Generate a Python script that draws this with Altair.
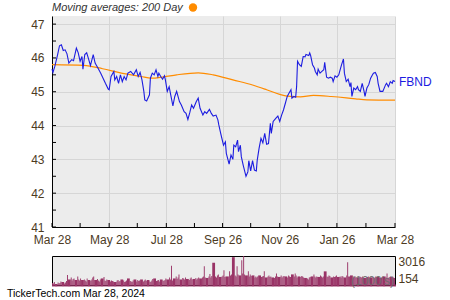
import altair as alt
import pandas as pd

# ---------------- data ----------------
ticker = "FBND"
title_text = "Moving averages: 200 Day"
footer_text = "TickerTech.com  Mar 28, 2024"
volume_unit = "(1000's)"

price_dates = [
    "2023-03-28", "2023-03-29", "2023-03-31", "2023-04-03", "2023-04-05", "2023-04-07", "2023-04-09",
    "2023-04-11", "2023-04-13", "2023-04-15", "2023-04-18", "2023-04-20", "2023-04-23", "2023-04-25",
    "2023-04-27", "2023-04-29", "2023-04-30", "2023-05-02", "2023-05-04", "2023-05-06", "2023-05-08",
    "2023-05-11", "2023-05-13", "2023-05-16", "2023-05-19", "2023-05-22", "2023-05-24", "2023-05-27",
    "2023-05-28", "2023-05-30", "2023-06-02", "2023-06-03", "2023-06-05", "2023-06-07", "2023-06-09",
    "2023-06-11", "2023-06-13", "2023-06-15", "2023-06-17", "2023-06-20", "2023-06-23", "2023-06-26",
    "2023-06-28", "2023-06-30", "2023-07-02", "2023-07-04", "2023-07-05", "2023-07-07", "2023-07-10",
    "2023-07-11", "2023-07-13", "2023-07-15", "2023-07-17", "2023-07-19", "2023-07-20", "2023-07-22",
    "2023-07-24", "2023-07-26", "2023-07-27", "2023-07-29", "2023-07-31", "2023-08-02", "2023-08-04",
    "2023-08-06", "2023-08-08", "2023-08-11", "2023-08-13", "2023-08-16", "2023-08-18", "2023-08-20",
    "2023-08-22", "2023-08-24", "2023-08-26", "2023-08-29", "2023-08-31", "2023-09-02", "2023-09-05",
    "2023-09-07", "2023-09-09", "2023-09-12", "2023-09-14", "2023-09-16", "2023-09-19", "2023-09-21",
    "2023-09-22", "2023-09-24", "2023-09-27", "2023-09-29", "2023-09-30", "2023-10-03", "2023-10-05",
    "2023-10-07", "2023-10-08", "2023-10-10", "2023-10-12", "2023-10-13", "2023-10-15", "2023-10-16",
    "2023-10-18", "2023-10-21", "2023-10-23", "2023-10-24", "2023-10-26", "2023-10-28", "2023-10-30",
    "2023-11-01", "2023-11-02", "2023-11-04", "2023-11-06", "2023-11-08", "2023-11-10", "2023-11-12",
    "2023-11-14", "2023-11-16", "2023-11-17", "2023-11-19", "2023-11-22", "2023-11-24", "2023-11-26",
    "2023-11-28", "2023-11-30", "2023-12-02", "2023-12-04", "2023-12-06", "2023-12-08", "2023-12-09",
    "2023-12-11", "2023-12-13", "2023-12-14", "2023-12-15", "2023-12-17", "2023-12-19", "2023-12-21",
    "2023-12-23", "2023-12-24", "2023-12-27", "2023-12-28", "2023-12-29", "2023-12-31", "2024-01-02",
    "2024-01-03", "2024-01-05", "2024-01-06", "2024-01-08", "2024-01-10", "2024-01-12", "2024-01-13",
    "2024-01-15", "2024-01-17", "2024-01-19", "2024-01-21", "2024-01-22", "2024-01-24", "2024-01-26",
    "2024-01-28", "2024-01-29", "2024-01-31", "2024-02-02", "2024-02-03", "2024-02-05", "2024-02-07",
    "2024-02-09", "2024-02-10", "2024-02-11", "2024-02-13", "2024-02-15", "2024-02-17", "2024-02-18",
    "2024-02-20", "2024-02-22", "2024-02-24", "2024-02-25", "2024-02-27", "2024-02-29", "2024-03-02",
    "2024-03-04", "2024-03-05", "2024-03-07", "2024-03-09", "2024-03-10", "2024-03-12", "2024-03-15",
    "2024-03-18", "2024-03-19", "2024-03-21", "2024-03-23", "2024-03-25", "2024-03-26", "2024-03-28",
]
price_values = [
    45.67, 45.57, 45.75, 46.10, 46.36, 46.39, 46.22,
    46.24, 46.12, 45.85, 45.95, 45.92, 46.29, 46.15,
    45.90, 46.04, 45.67, 46.10, 46.15, 45.97, 45.77,
    46.10, 45.85, 45.70, 45.55, 45.37, 45.25, 45.08,
    45.06, 45.45, 45.60, 45.35, 45.45, 45.25, 45.50,
    45.30, 45.45, 45.35, 45.55, 45.60, 45.50, 45.65,
    45.45, 45.57, 45.35, 45.01, 44.76, 44.73, 44.91,
    45.40, 45.55, 45.50, 45.65, 45.45, 45.55, 45.45,
    45.37, 45.47, 45.35, 45.01, 45.15, 44.86, 44.58,
    44.86, 45.01, 44.71, 44.61, 44.41, 44.36, 44.18,
    44.38, 44.61, 44.51, 44.71, 44.81, 44.51, 44.31,
    44.41, 44.36, 44.48, 44.36, 44.28, 44.31, 44.17,
    44.02, 43.77, 43.42, 43.52, 43.18, 42.86, 43.13,
    43.00, 43.42, 43.37, 43.57, 43.23, 43.42, 43.08,
    42.83, 42.50, 42.63, 42.96, 42.66, 42.96, 42.68,
    42.66, 42.98, 43.33, 43.62, 43.49, 43.77, 43.45,
    43.47, 44.07, 43.77, 44.12, 44.22, 44.28, 44.12,
    44.31, 44.46, 44.66, 44.86, 44.96, 45.06, 44.81,
    44.86, 44.84, 45.15, 45.90, 45.80, 45.75, 46.04,
    46.03, 46.10, 46.07, 46.15, 46.07, 45.80, 45.70,
    45.60, 45.50, 45.67, 45.55, 45.60, 45.65, 45.87,
    45.43, 45.40, 45.43, 45.40, 45.30, 45.47, 45.43,
    45.50, 45.60, 45.80, 45.97, 45.55, 45.30, 45.37,
    45.15, 45.27, 44.86, 45.11, 45.06, 45.15, 45.06,
    45.01, 45.25, 45.01, 44.86, 45.11, 45.21, 45.40,
    45.50, 45.55, 45.57, 45.45, 45.25, 45.01, 45.01,
    45.21, 45.25, 45.15, 45.30, 45.25, 45.33, 45.30,
]

ma_dates = [
    "2023-03-28", "2023-05-01", "2023-05-21", "2023-06-10", "2023-07-01", "2023-07-12",
    "2023-07-25", "2023-08-08", "2023-08-31", "2023-09-16", "2023-10-07", "2023-10-28",
    "2023-11-12", "2023-11-26", "2023-12-04", "2023-12-18", "2024-01-01", "2024-01-20",
    "2024-02-05", "2024-02-15", "2024-02-27", "2024-03-28",
]
ma_values = [
    45.80, 45.78, 45.68, 45.55, 45.45, 45.40,
    45.44, 45.50, 45.56, 45.50, 45.35, 45.20,
    45.06, 44.92, 44.87, 44.85, 44.89, 44.86,
    44.82, 44.79, 44.76, 44.75,
]

# daily volume (thousands), one list per month of trading days
vol_mar23 = [350, 300, 450, 250]
vol_apr23 = [400, 300, 350, 500, 450, 300, 400, 550, 1150, 700, 900, 600, 750, 800, 650, 1000, 700, 600, 800, 650]
vol_may23 = [700, 600, 500, 800, 650, 550, 700, 900, 1000, 650, 750, 600, 500, 700, 800, 950, 600, 550, 700, 650, 500, 600, 550]
vol_jun23 = [500, 450, 600, 650, 500, 550, 700, 600, 450, 500, 600, 800, 550, 500, 450, 600, 700, 500, 650, 550, 600, 700]
vol_jul23 = [500, 600, 700, 550, 650, 500, 450, 600, 750, 800, 550, 600, 650, 500, 700, 600, 550, 650, 800, 700, 900]
vol_aug23 = [700, 2050, 600, 800, 1000, 750, 900, 1200, 700, 850, 800, 700, 900, 750, 650, 800, 900, 700, 750, 850, 700, 800, 900]
vol_sep23 = [800, 900, 1000, 2000, 900, 850, 1000, 1250, 900, 1050, 2350, 1000, 900, 1100, 1200, 950, 1000, 1100, 1600, 950, 1000]
vol_oct23 = [1000, 1500, 1100, 1200, 2900, 1100, 1000, 2000, 1200, 1100, 2600, 1300, 3016, 1200, 1100, 1500, 1000, 1200, 1050, 1100, 900, 1000]
vol_nov23 = [900, 1000, 1100, 950, 1000, 1050, 1500, 900, 1000, 1100, 950, 1000, 900, 850, 1000, 1300, 1000, 950, 1100, 900, 1000, 1050]
vol_dec23 = [1000, 900, 1100, 1000, 950, 1200, 1000, 1300, 1100, 900, 1000, 950, 1050, 1000, 900, 850, 800, 700, 900, 950, 1000]
vol_jan24 = [1200, 1000, 900, 1000, 950, 1100, 1000, 900, 1000, 1500, 1000, 950, 1100, 1050, 900, 1000, 950, 1000, 1100, 950, 1000, 900, 1050]
vol_feb24 = [1000, 900, 1100, 2400, 1000, 1000, 1100, 900, 950, 1000, 850, 900, 1000, 950, 900, 1000, 850, 900, 950, 1000, 900]
vol_mar24 = [900, 950, 850, 900, 1000, 950, 900, 850, 900, 950, 1000, 900, 1300, 850, 900, 950, 1000, 900, 850, 200]

vol_axis_values = [154, 3016]
y_label_values = [41, 42, 43, 44, 45, 46, 47]
y_tick_values = [41, 41.5, 42, 42.5, 43, 43.5, 44, 44.5, 45, 45.5, 46, 46.5, 47]
x_label_dates = ["2023-03-28", "2023-05-28", "2023-07-28", "2023-09-26", "2023-11-26", "2024-01-26", "2024-03-28"]
x_tick_dates = ["2023-03-28", "2023-04-27", "2023-05-28", "2023-06-27", "2023-07-28", "2023-08-27",
                "2023-09-26", "2023-10-26", "2023-11-26", "2023-12-26", "2024-01-26", "2024-02-26", "2024-03-28"]

# ---------------- styling ----------------
FONT = "Liberation Sans"
LABEL_COLOR = "#4d3b1f"
BG = "#ececec"
GRID = "#d6d6d6"
BLUE = "#1c1ce0"
ORANGE = "#ff8c00"
VOL_COLOR = "#993366"
W, H, VH = 343, 211, 29


def dt(s):
    y, m, d = (int(p) for p in s.split("-"))
    return alt.DateTime(year=y, month=m, date=d, utc=True)


price_df = pd.DataFrame({"date": price_dates, "price": price_values})
ma_df = pd.DataFrame({"date": ma_dates, "ma": ma_values})
label_df = pd.DataFrame({"date": [price_dates[-1]], "price": [price_values[-1]], "sym": [ticker]})
ytick_df = pd.DataFrame({"v": y_tick_values})
xtick_df = pd.DataFrame({"d": x_tick_dates})

vols = (vol_mar23 + vol_apr23 + vol_may23 + vol_jun23 + vol_jul23 + vol_aug23 + vol_sep23
        + vol_oct23 + vol_nov23 + vol_dec23 + vol_jan24 + vol_feb24 + vol_mar24)
bdays = pd.bdate_range("2023-03-28", "2024-03-28")
vol_df = pd.DataFrame({"date": bdays[: len(vols)], "vol": vols[: len(bdays)]})
vol_df["next"] = vol_df["date"].shift(-1).fillna(vol_df["date"].iloc[-1] + pd.Timedelta(days=1))
vol_df["date"] = vol_df["date"].dt.strftime("%Y-%m-%d")
vol_df["next"] = vol_df["next"].dt.strftime("%Y-%m-%d")

x_scale = alt.Scale(type="utc", domain=[dt(x_label_dates[0]), dt(x_label_dates[-1])], nice=False)
y_scale = alt.Scale(domain=[41, 47.24], nice=False, zero=False)


def x_axis():
    return alt.Axis(
        values=[dt(s) for s in x_label_dates], tickCount=20,
        labelExpr="utcFormat(datum.value, '%b %d')",
        ticks=False, tickSize=0, labelPadding=7,
        domainColor="black", domainWidth=1,
        grid=True, gridColor=GRID, gridWidth=1,
        labelFlush=False, labelOverlap=False,
    )


def y_axis():
    return alt.Axis(
        values=y_label_values, tickCount=20, format="d", ticks=False, tickSize=0, labelPadding=8,
        domainColor="black", domainWidth=1, labelOverlap=False, labelFlush=False,
        grid=True, gridColor=GRID, gridWidth=1,
    )


ma_line = alt.Chart(ma_df).mark_line(color=ORANGE, strokeWidth=1.2, interpolate="monotone").encode(
    x=alt.X("date:T", scale=x_scale, axis=x_axis(), title=None),
    y=alt.Y("ma:Q", scale=y_scale, axis=y_axis(), title=None),
)
price_line = alt.Chart(price_df).mark_line(color=BLUE, strokeWidth=1.1).encode(
    x=alt.X("date:T", scale=x_scale, axis=x_axis(), title=None),
    y=alt.Y("price:Q", scale=y_scale, axis=y_axis(), title=None),
)
yticks = alt.Chart(ytick_df).mark_rule(color="black", strokeWidth=1).encode(
    y="v:Q", x=alt.value(0), x2=alt.value(4),
)
xticks = alt.Chart(xtick_df).mark_rule(color="black", strokeWidth=1).encode(
    x="d:T", y=alt.value(H), y2=alt.value(H - 4),
)
sym_label = alt.Chart(label_df).mark_text(
    align="left", baseline="middle", dx=4, fontSize=12, font=FONT, color=BLUE,
).encode(x="date:T", y="price:Q", text="sym:N")
title_mark = alt.Chart(pd.DataFrame({"t": [title_text]})).mark_text(
    align="left", baseline="middle", fontSize=11, font=FONT, fontStyle="italic", color="#333333",
).encode(text="t:N", x=alt.value(0), y=alt.value(-8))
dot = alt.Chart(pd.DataFrame({"k": [1]})).mark_point(
    filled=True, color=ORANGE, size=70, opacity=1,
).encode(x=alt.value(141), y=alt.value(-8.5))

main = alt.layer(ma_line, price_line, yticks, xticks, sym_label, title_mark, dot).properties(
    width=W, height=H,
    view=alt.ViewBackground(fill=BG, strokeWidth=0),
)

bars = alt.Chart(vol_df).mark_bar(color=VOL_COLOR).encode(
    x=alt.X("date:T", scale=x_scale, axis=None),
    x2="next:T",
    y=alt.Y("vol:Q", scale=alt.Scale(domain=[vol_axis_values[0], vol_axis_values[1]], nice=False, zero=False),
            axis=alt.Axis(orient="right", values=vol_axis_values, format="d", ticks=False, tickSize=0,
                          domain=False, grid=False, labelFlush=True, labelPadding=3),
            title=None),
    y2=alt.value(VH),
)
unit_text = alt.Chart(pd.DataFrame({"t": [volume_unit]})).mark_text(
    align="right", baseline="middle", fontSize=12, font=FONT, color="#6b6b6b", opacity=0.9,
).encode(text="t:N", x=alt.value(W - 1), y=alt.value(VH - 4))
footer = alt.Chart(pd.DataFrame({"t": [footer_text]})).mark_text(
    align="left", baseline="middle", fontSize=10.5, font=FONT, color="black",
).encode(text="t:N", x=alt.value(-45), y=alt.value(VH + 9))

volume = alt.layer(bars, unit_text, footer).properties(
    width=W, height=VH,
    view=alt.ViewBackground(fill=BG, stroke="black", strokeWidth=1),
)

chart = alt.vconcat(main, volume, spacing=29, bounds="flush").properties(
    padding={"left": 6, "top": 2, "right": 5, "bottom": 0},
).configure_axis(
    labelFont=FONT, labelFontSize=12, labelColor=LABEL_COLOR,
).configure_view(strokeWidth=0)

chart.save("out.html", embed_options={"renderer": "svg", "actions": False})
